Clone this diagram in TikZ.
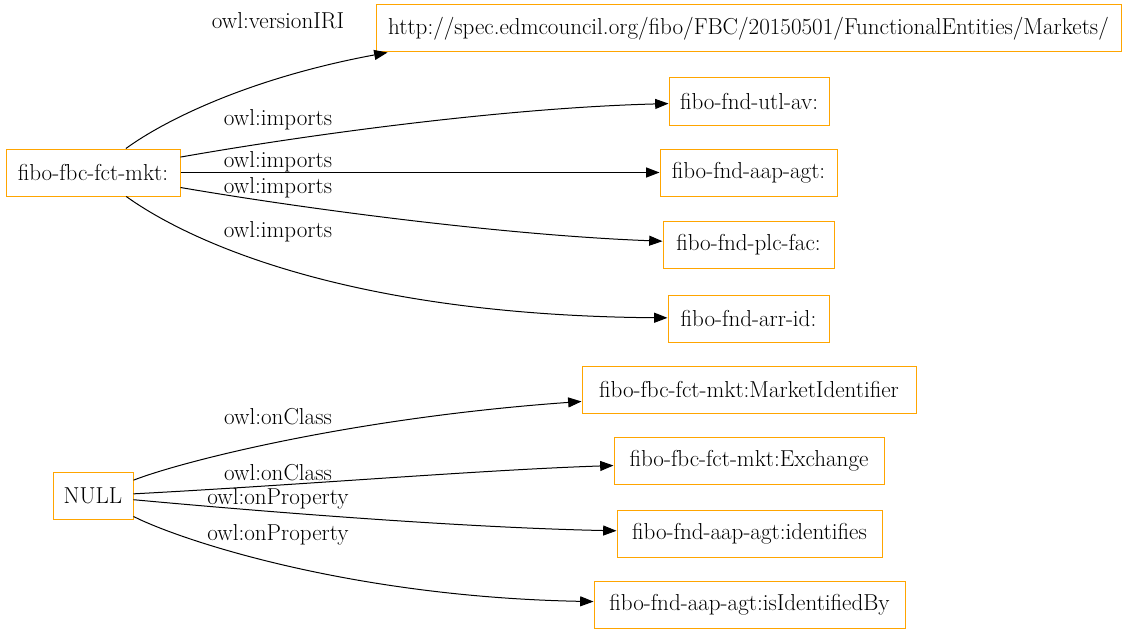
\documentclass[tikz,border=0pt]{standalone}
\usetikzlibrary{arrows.meta}
\definecolor{gvorange}{HTML}{FFA500}
\begin{document}
\begin{tikzpicture}[x=0.75pt,y=-0.75pt,
  box/.style={draw=gvorange,line width=0.75pt,rectangle,minimum height=35.25pt,inner sep=0pt,font=\fontsize{17.3}{20}\selectfont},
  edge/.style={line width=0.75pt,-{Triangle[length=10pt,width=7.5pt]}},
  lbl/.style={font=\fontsize{17.3}{20}\selectfont,inner sep=0pt}]
\useasboundingbox (0,0) rectangle (1128,635);
\node[box,minimum width=558.75pt] (url) at (748.5,28.5) {http://spec.edmcouncil.org/fibo/FBC/20150501/FunctionalEntities/Markets/};
\node[box,minimum width=120pt] (utl) at (749,101.5) {fibo-fnd-utl-av:};
\node[box,minimum width=132.75pt] (aap) at (748.5,172.5) {fibo-fnd-aap-agt:};
\node[box,minimum width=128.25pt] (plc) at (748.5,244.5) {fibo-fnd-plc-fac:};
\node[box,minimum width=120.75pt] (arr) at (748.5,318.5) {fibo-fnd-arr-id:};
\node[box,minimum width=130.5pt] (mkt) at (93,172.5) {fibo-fbc-fct-mkt:};
\node[box,minimum width=250.5pt] (mi) at (749,389.5) {fibo-fbc-fct-mkt:MarketIdentifier};
\node[box,minimum width=202.5pt] (ex) at (749,461) {fibo-fbc-fct-mkt:Exchange};
\node[box,minimum width=198.75pt] (idf) at (749.5,533.5) {fibo-fnd-aap-agt:identifies};
\node[box,minimum width=233.25pt] (isi) at (749.5,604.5) {fibo-fnd-aap-agt:isIdentifiedBy};
\node[box,minimum width=60pt] (null) at (93,496) {NULL};

\draw[edge] (mkt) .. controls (165,120) and (250,78) .. ([xshift=9pt]url.south west);
\draw[edge] (mkt) .. controls (300,136) and (500,108) .. (utl);
\draw[edge] (mkt) -- (aap);
\draw[edge] (mkt) .. controls (300,208) and (500,235) .. (plc);
\draw[edge] (mkt) .. controls (170,228) and (320,315) .. (arr);
\draw[edge] (null) .. controls (180,462) and (350,418) .. (mi);
\draw[edge] (null) .. controls (300,485) and (480,470) .. (ex);
\draw[edge] (null) .. controls (300,515) and (480,528) .. (idf);
\draw[edge] (null) .. controls (180,540) and (350,597) .. (isi);

\node[lbl] (l1) at (278,21) {owl:versionIRI};
\node[lbl] (l2) at (278,120) {owl:imports};
\node[lbl] (l3) at (278,162) {owl:imports};
\node[lbl] (l4) at (278,188) {owl:imports};
\node[lbl] (l5) at (278,232) {owl:imports};
\node[lbl] (l6) at (278,417) {owl:onClass};
\node[lbl] (l7) at (278,473) {owl:onClass};
\node[lbl] (l8) at (278,499) {owl:onProperty};
\node[lbl] (l9) at (278,535) {owl:onProperty};
\end{tikzpicture}
\end{document}
